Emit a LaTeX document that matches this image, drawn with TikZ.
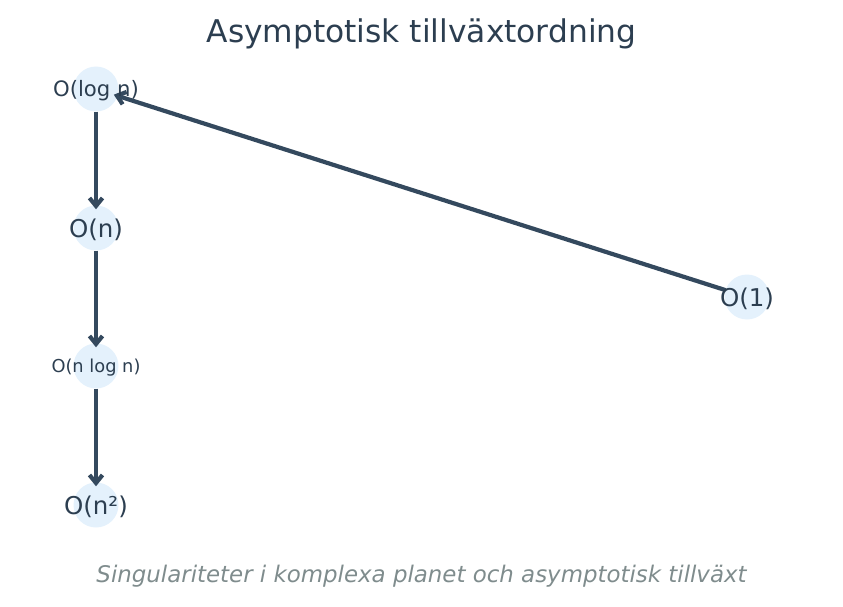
\documentclass[tikz,border=0pt]{standalone}
\usepackage{fontspec}
\setmainfont{DejaVu Sans}
\usetikzlibrary{arrows.meta}
\definecolor{nodefill}{HTML}{E4F1FC}
\definecolor{txt}{HTML}{2C3E50}
\definecolor{edge}{HTML}{34495E}
\definecolor{sub}{HTML}{7F8C8D}
\tikzset{
  dot/.style={circle,fill=nodefill,minimum size=45pt,inner sep=0pt},
  lbl/.style={text=txt,inner sep=0pt,anchor=center,yshift=-2pt},
  conn/.style={draw=edge,line width=4.2pt,-{Straight Barb[length=8pt,width=13pt]},shorten >=-4pt},
}
\begin{document}
\begin{tikzpicture}[x=1pt,y=-1pt]
\useasboundingbox (0,0) rectangle (843,607);
\node[text=txt,font=\fontsize{31.3}{36}\selectfont] (title) at (421.5,34) {Asymptotisk tillväxtordning};
\node[dot] (logn) at (96,89) {};
\node[dot] (n) at (96,228) {};
\node[dot] (nlogn) at (96,366) {};
\node[dot] (n2) at (96,505) {};
\node[dot] (one) at (747,297) {};
\draw[conn] (one) -- (logn);
\draw[conn] (logn) -- (n);
\draw[conn] (n) -- (nlogn);
\draw[conn] (nlogn) -- (n2);
\node[lbl,font=\fontsize{21.2}{24}\selectfont] (tlogn) at (logn) {O(log n)};
\node[lbl,font=\fontsize{24.5}{28}\selectfont] (tn) at (n) {O(n)};
\node[lbl,font=\fontsize{17.8}{20}\selectfont] (tnlogn) at (nlogn) {O(n log n)};
\node[lbl,font=\fontsize{24.5}{28}\selectfont] (tn2) at (n2) {O(n²)};
\node[lbl,font=\fontsize{24.5}{28}\selectfont] (tone) at (one) {O(1)};
\node[text=sub,font=\itshape\fontsize{22.9}{26}\selectfont] (subt) at (421.5,576) {Singulariteter i komplexa planet och asymptotisk tillväxt};
\end{tikzpicture}
\end{document}
